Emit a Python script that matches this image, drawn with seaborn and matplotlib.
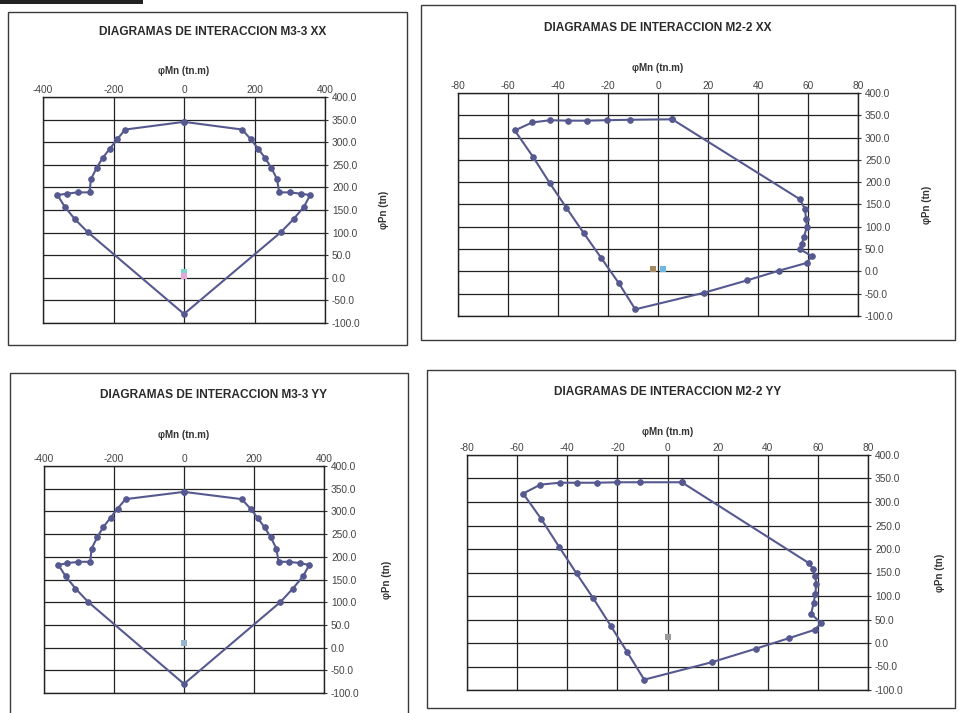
import numpy as np
import pandas as pd
import matplotlib
matplotlib.use("Agg")
import matplotlib.pyplot as plt
from matplotlib.patches import Rectangle
import seaborn as sns

sns.set_style("white")
plt.rcParams['font.family'] = ['Liberation Sans', 'DejaVu Sans']
plt.rcParams['axes.unicode_minus'] = False

# diagram M3-3 XX (top left), closed curve: top -> right side -> bottom -> left side -> top
m33xx_mn = [0, 165, 190, 210, 230, 248, 264, 270, 300, 332, 358, 340, 311, 275, 0,
            -273, -310, -338, -359, -333, -302, -268, -264, -248, -231, -210, -190, -167, 0]
m33xx_pn = [345, 328, 306, 286, 265, 243, 218, 189, 189, 186, 183, 157, 130, 101, -80,
            101, 130, 157, 183, 186, 189, 189, 218, 243, 265, 286, 306, 328, 345]

# diagram M3-3 YY (bottom left)
m33yy_mn = [0, 165, 190, 210, 230, 248, 264, 270, 300, 332, 358, 340, 311, 275, 0,
            -273, -310, -338, -359, -333, -302, -268, -264, -248, -231, -210, -190, -167, 0]
m33yy_pn = [343, 327, 306, 286, 265, 243, 218, 189, 189, 186, 182, 157, 130, 100, -80,
            100, 130, 157, 182, 186, 189, 189, 218, 243, 265, 286, 306, 327, 343]

# diagram M2-2 XX (top right)
m22xx_mn = [5.7, 56.7, 58.8, 59.2, 59.6, 58.4, 57.5, 56.8, 61.5, 59.5, 48.3, 35.7, 18.3, -9.1,
            -15.6, -22.7, -29.6, -36.7, -43.3, -50.0, -57.3, -50.3, -43.1, -35.9, -28.4, -20.3, -11.3, 5.7]
m22xx_pn = [341, 162, 140, 118, 100, 78, 62, 50, 34, 19, 1.5, -20, -48, -85,
            -27, 30, 85, 143, 198, 257, 316, 334, 339, 338, 338, 339, 340, 341]

# diagram M2-2 YY (bottom right)
m22yy_mn = [5.7, 56.4, 58.0, 59.0, 59.3, 59.0, 58.3, 57.3, 61.3, 58.7, 48.3, 35.3, 17.6, -9.3,
            -16.0, -22.7, -29.6, -36.3, -43.3, -50.4, -57.6, -50.7, -43.0, -36.0, -28.0, -20.0, -10.9, 5.7]
m22yy_pn = [342, 170, 158, 143, 125, 105, 85, 62, 42, 28, 10, -12, -41, -78,
            -20, 37, 95, 148, 205, 264, 318, 337, 341, 341, 341, 342, 342, 342]

# demand points (Mu, Pu) and their colours
dem_m33xx = ([0, 0], [12, 5], ['#7fd6cf', '#e6a8d8'])
dem_m22xx = ([-2, 2], [5, 5], ['#a88a62', '#6fb8e0'])
dem_m33yy = ([0], [10], ['#93b4cc'])
dem_m22yy = ([0], [12], ['#9a9a9a'])

m33_ticks = [-400, -200, 0, 200, 400]
m22_ticks = [-80, -60, -40, -20, 0, 20, 40, 60, 80]
pn_ticks = np.arange(-100, 401, 50)

line_col = '#55598f'

fig = plt.figure(figsize=(9.59, 7.13), dpi=100)
W, H = 959.0, 713.0


def px_box(x0, y0, x1, y1):
    # pixel box (top-left origin) -> figure fraction rect
    return [x0 / W, (H - y1) / H, (x1 - x0) / W, (y1 - y0) / H]


# outer frames of each chart
for (x0, y0, x1, y1) in [(8, 12, 407, 345), (421, 5, 955, 340),
                         (10, 373, 408, 720), (427, 370, 955, 708)]:
    b = px_box(x0, y0, x1, y1)
    fig.add_artist(Rectangle((b[0], b[1]), b[2], b[3], transform=fig.transFigure,
                             fill=False, lw=1.0, ec='#3a3a3a'))
fig.add_artist(Rectangle((0, (H - 4) / H), 143 / W, 4 / H, transform=fig.transFigure,
                         fc='#222222', ec='none'))


def draw(box, mn, pn, dem, xticks, title, tpos, xlab_y, ylab_x):
    ax = fig.add_axes(px_box(*box))
    df = pd.DataFrame({'Mn': mn, 'Pn': pn})
    sns.lineplot(data=df, x='Mn', y='Pn', sort=False, estimator=None, ax=ax,
                 color=line_col, lw=1.5, marker='o', markersize=4,
                 markeredgecolor=line_col, zorder=3)
    for x, y, c in zip(*dem):
        ax.scatter([x], [y], s=18, marker='s', color=c, zorder=4, lw=0)
    ax.set_xlim(xticks[0], xticks[-1])
    ax.set_ylim(-100, 400)
    ax.set_xticks(xticks)
    ax.set_yticks(pn_ticks)
    ax.set_yticklabels([f'{v:.1f}' for v in pn_ticks])
    ax.xaxis.tick_top()
    ax.yaxis.tick_right()
    ax.tick_params(axis='x', length=0, pad=1.5, labelsize=7.3, labelcolor='#444444')
    ax.tick_params(axis='y', direction='inout', length=4, width=0.8, color='#333333',
                   pad=3, labelsize=7.3, labelcolor='#444444')
    ax.grid(True, color='#222222', lw=0.9)
    for s in ax.spines.values():
        s.set_color('#222222')
        s.set_linewidth(1.0)
    ax.set_xlabel('φMn (tn.m)', fontsize=7, fontweight='bold', color='#333333')
    ax.xaxis.set_label_position('top')
    ax.xaxis.set_label_coords(0.5, xlab_y)
    ax.set_ylabel('φPn (tn)', fontsize=7, fontweight='bold', color='#333333')
    ax.yaxis.set_label_position('right')
    ax.yaxis.set_label_coords(ylab_x, 0.5)
    ax.text(tpos[0], tpos[1], title, transform=ax.transAxes, ha='center', va='center',
            fontsize=8.6, fontweight='bold', color='#2a2a2a')
    return ax


draw((43, 97, 325, 323), m33xx_mn, m33xx_pn, dem_m33xx, m33_ticks,
     'DIAGRAMAS DE INTERACCION M3-3 XX', (0.603, 1.288), 1.10, 1.19)
draw((458, 93, 858, 316), m22xx_mn, m22xx_pn, dem_m22xx, m22_ticks,
     'DIAGRAMAS DE INTERACCION M2-2 XX', (0.5, 1.29), 1.10, 1.16)
draw((44, 466, 324, 693), m33yy_mn, m33yy_pn, dem_m33yy, m33_ticks,
     'DIAGRAMAS DE INTERACCION M3-3 YY', (0.604, 1.313), 1.125, 1.207)
draw((467, 455, 868, 690), m22yy_mn, m22yy_pn, dem_m22yy, m22_ticks,
     'DIAGRAMAS DE INTERACCION M2-2 YY', (0.5, 1.268), 1.085, 1.167)

fig.savefig('out.png', dpi=100)
